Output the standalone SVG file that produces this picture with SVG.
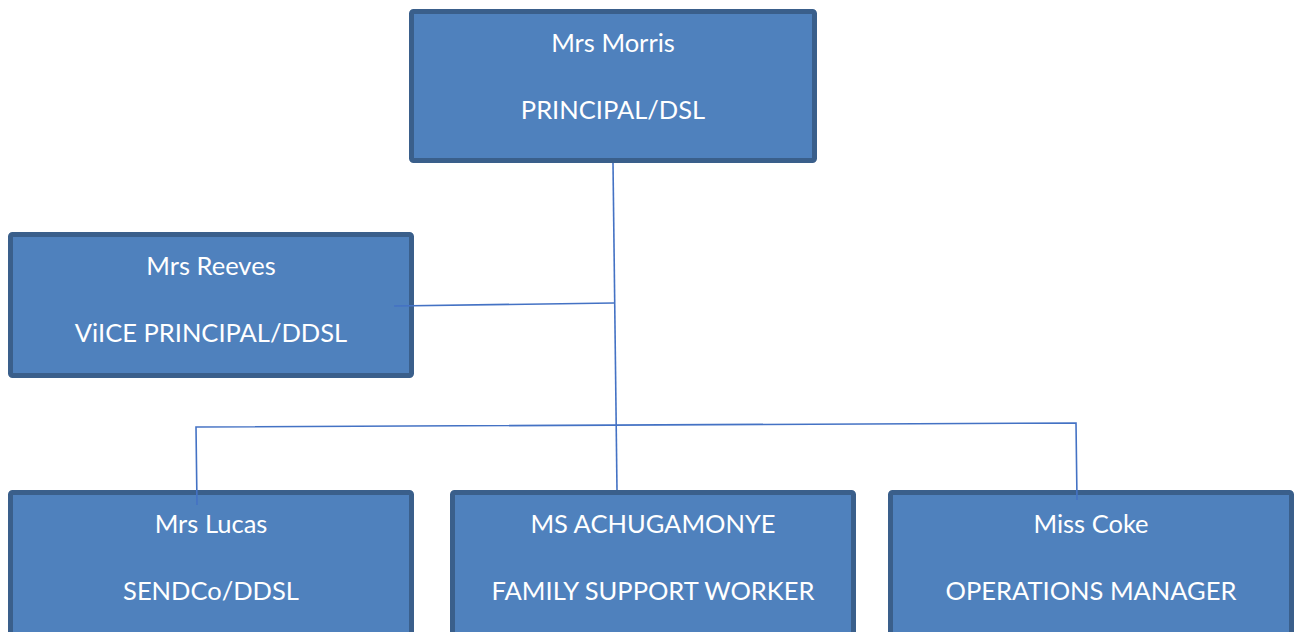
<svg xmlns="http://www.w3.org/2000/svg" width="1298" height="632" viewBox="0 0 1298 632">
<style>
.box{fill:#4F81BD;stroke:#3A5F8B;stroke-width:5;}
.t{font-family:Lato,"Open Sans","Liberation Sans",sans-serif;font-size:25.5px;fill:#ffffff;text-anchor:middle;}
.c{stroke:#4472C4;stroke-width:1.6;fill:none;}
</style>
<rect width="1298" height="632" fill="#ffffff"/>
<g id="morris">
<rect class="box" x="411.5" y="11.5" width="403" height="149" rx="2"/>
<text class="t" x="613" y="52">Mrs Morris</text>
<text class="t" x="613" y="119">PRINCIPAL/DSL</text>
</g>
<g id="reeves">
<rect class="box" x="10.5" y="234.5" width="401" height="141" rx="2"/>
<text class="t" x="211" y="275">Mrs Reeves</text>
<text class="t" x="211" y="342">ViICE PRINCIPAL/DDSL</text>
</g>
<g id="lucas">
<rect class="box" x="10.5" y="492.5" width="401" height="150" rx="2"/>
<text class="t" x="211" y="533">Mrs Lucas</text>
<text class="t" x="211" y="600">SENDCo/DDSL</text>
</g>
<g id="achugamonye">
<rect class="box" x="452.5" y="492.5" width="401" height="150" rx="2"/>
<text class="t" x="653" y="533">MS ACHUGAMONYE</text>
<text class="t" x="653" y="600">FAMILY SUPPORT WORKER</text>
</g>
<g id="coke">
<rect class="box" x="890.5" y="492.5" width="401" height="150" rx="2"/>
<text class="t" x="1091" y="533">Miss Coke</text>
<text class="t" x="1091" y="600">OPERATIONS MANAGER</text>
</g>
<g id="connectors">
<line class="c" x1="613" y1="163" x2="617" y2="490"/>
<line class="c" x1="394" y1="306" x2="614" y2="303"/>
<polyline class="c" points="197,505 196,427 1076,423 1077,500"/>
</g>
</svg>
